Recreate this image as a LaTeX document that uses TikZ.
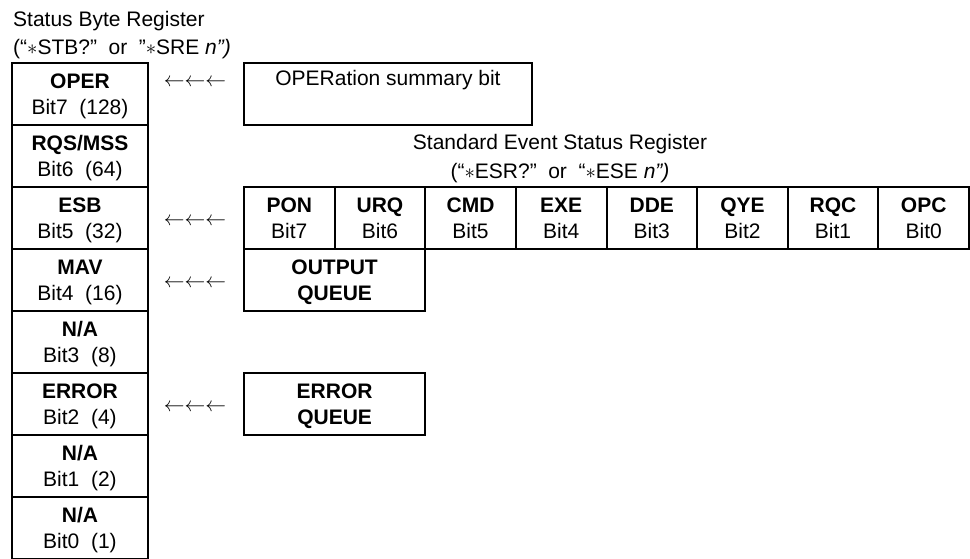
\documentclass[tikz,border=0pt]{standalone}
\usepackage{fontspec}
\setmainfont{Liberation Sans}
\newcommand{\bigfont}{\fontsize{21}{26}\selectfont}
\newcommand{\regcell}[6]{%
  \node[cellbox, minimum width=#4] (#1) at (#2,#3) {};
  \node[tline, font=\bigfont\bfseries] (#1-a) at ([yshift=-25pt]#1.north) {#5};
  \node[tline] (#1-b) at ([yshift=-51pt]#1.north) {#6};}
\begin{document}
\begin{tikzpicture}[x=1pt, y=-1pt,
  font=\bigfont,
  cellbox/.style={draw, line width=2pt, inner sep=0pt, outer sep=0pt, minimum height=62pt, anchor=north west},
  tline/.style={inner sep=0pt, anchor=base, font=\bigfont},
  ttl/.style={inner sep=0pt, font=\bigfont},
  arrowtxt/.style={inner sep=0pt, font=\bigfont}]
\useasboundingbox (0,0) rectangle (970,558);

% titles of the status byte register
\node[ttl, anchor=base west] (sbt1) at (13,26) {Status Byte Register};
\node[ttl, anchor=base west] (sbt2) at (13,54) {(“$\ast$STB?”\hspace{0.55em}or\hspace{0.55em}”$\ast$SRE \textit{n”)}};

% status byte register column
\regcell{r7}{12}{63}{136pt}{OPER}{Bit7~~(128)}
\regcell{r6}{12}{125}{136pt}{RQS/MSS}{Bit6~~(64)}
\regcell{r5}{12}{187}{136pt}{ESB}{Bit5~~(32)}
\regcell{r4}{12}{249}{136pt}{MAV}{Bit4~~(16)}
\regcell{r3}{12}{311}{136pt}{N/A}{Bit3~~(8)}
\regcell{r2}{12}{373}{136pt}{ERROR}{Bit2~~(4)}
\regcell{r1}{12}{435}{136pt}{N/A}{Bit1~~(2)}
\regcell{r0}{12}{497}{136pt}{N/A}{Bit0~~(1)}

% operation summary box
\node[cellbox, minimum width=288pt] (oper) at (244,63) {};
\node[tline] (oper-t) at ([yshift=-22pt]oper.north) {OPERation summary bit};

% standard event status register
\node[ttl, anchor=base] (esrt1) at (560,149) {Standard Event Status Register};
\node[ttl, anchor=base] (esrt2) at (560,178.5) {(“$\ast$ESR?”\hspace{0.55em}or\hspace{0.55em}“$\ast$ESE \textit{n”)}};
\foreach \i/\n/\b in {0/PON/Bit7, 1/URQ/Bit6, 2/CMD/Bit5, 3/EXE/Bit4, 4/DDE/Bit3, 5/QYE/Bit2, 6/RQC/Bit1, 7/OPC/Bit0}{
  \regcell{e\i}{244+90.625*\i}{187}{90.625pt}{\n}{\b}
}

% queues
\regcell{outq}{244}{249}{181.25pt}{OUTPUT}{\textbf{QUEUE}}
\regcell{errq}{244}{373}{181.25pt}{ERROR}{\textbf{QUEUE}}

% arrows
\node[arrowtxt] (a7) at (195,83) {$\leftarrow\leftarrow\leftarrow$};
\node[arrowtxt] (a5) at (195,222) {$\leftarrow\leftarrow\leftarrow$};
\node[arrowtxt] (a4) at (195,284) {$\leftarrow\leftarrow\leftarrow$};
\node[arrowtxt] (a2) at (195,408) {$\leftarrow\leftarrow\leftarrow$};
\end{tikzpicture}
\end{document}
